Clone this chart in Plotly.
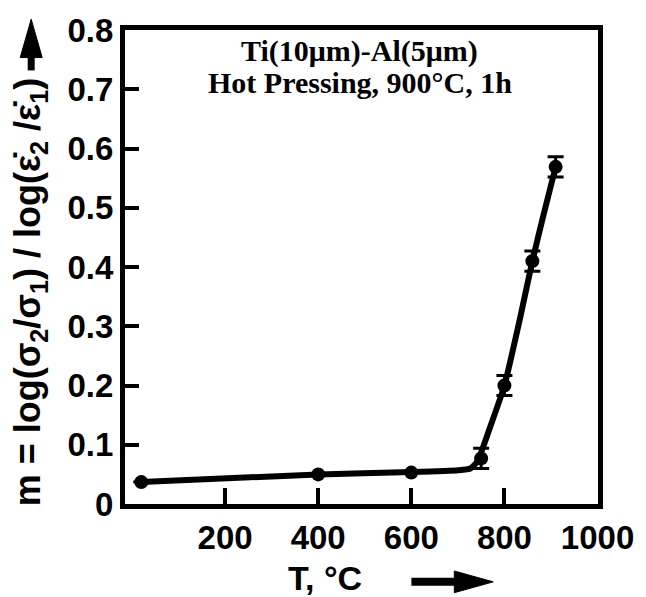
import plotly.graph_objects as go

# data
temp_c = [20, 400, 600, 750, 800, 860, 910]
m_val = [0.037, 0.050, 0.053, 0.077, 0.200, 0.410, 0.569]
m_err = [0, 0, 0, 0.017, 0.017, 0.017, 0.017]

# smooth guide curve drawn through the data
fit_t = [20, 400, 600, 700, 727, 742, 768, 800, 834, 860, 884, 910]
fit_m = [0.037, 0.050, 0.054, 0.057, 0.060, 0.072, 0.127, 0.200, 0.315, 0.410, 0.488, 0.569]

x_ticks = [200, 400, 600, 800, 1000]
y_ticks = [0, 0.1, 0.2, 0.3, 0.4, 0.5, 0.6, 0.7, 0.8]
y_labels = ["0", "0.1", "0.2", "0.3", "0.4", "0.5", "0.6", "0.7", "0.8"]

W, H = 646, 597
L, R, T, B = 125, 47, 23, 93
pw, ph = W - L - R, H - T - B

def xp(px):
    return (px - L) / pw

def yp(py):
    return (H - B - py) / ph

fig = go.Figure()
fig.add_trace(go.Scatter(x=fit_t, y=fit_m, mode="lines",
                         line=dict(color="black", width=6, shape="spline", smoothing=0.5),
                         hoverinfo="skip", showlegend=False))
fig.add_trace(go.Scatter(x=temp_c, y=m_val, mode="markers",
                         marker=dict(color="black", size=14),
                         error_y=dict(type="data", array=m_err, visible=True,
                                      color="black", thickness=3, width=8),
                         showlegend=False))

tickfont = dict(family="Liberation Sans, Arial", size=33, color="black", weight="bold")
fig.update_xaxes(range=[-15, 1001], tickvals=x_ticks, ticks="inside", ticklen=16,
                 tickwidth=4, tickcolor="black", showline=True, linewidth=5,
                 linecolor="black", mirror=True, showgrid=False, zeroline=False,
                 tickfont=tickfont)
fig.update_yaxes(range=[0, 0.8], tickvals=y_ticks, ticktext=y_labels, ticks="inside",
                 ticklen=14, tickwidth=4, tickcolor="black", showline=True, linewidth=5,
                 linecolor="black", mirror=True, showgrid=False, zeroline=False,
                 tickfont=tickfont)

serif = dict(family="Liberation Serif, Times New Roman", size=30, color="black")
fig.add_annotation(xref="paper", yref="paper", x=xp(360), y=yp(44),
                   text="<b>Ti(10μm)-Al(5μm)</b>", showarrow=False, font=serif,
                   xanchor="center", yanchor="middle")
fig.add_annotation(xref="paper", yref="paper", x=xp(360), y=yp(76),
                   text="<b>Hot Pressing, 900°C, 1h</b>", showarrow=False, font=serif,
                   xanchor="center", yanchor="middle")

sans = dict(family="Liberation Sans, Arial", size=36, color="black")
fig.add_annotation(xref="paper", yref="paper", x=xp(30), y=yp(289),
                   text="<b>m = log(σ<sub>2</sub>/σ<sub>1</sub>) / log(ε̇<sub>2</sub> /ε̇<sub>1</sub>)</b>",
                   textangle=-90, showarrow=False, font=sans,
                   xanchor="center", yanchor="middle")
fig.add_annotation(xref="paper", yref="paper", x=xp(325), y=yp(579),
                   text="<b>T, °C</b>", showarrow=False,
                   font=dict(family="Liberation Sans, Arial", size=34, color="black"),
                   xanchor="center", yanchor="middle")

# up arrow next to y title
fig.add_shape(type="line", xref="paper", yref="paper", x0=xp(31), x1=xp(31),
              y0=yp(64), y1=yp(45), line=dict(color="black", width=7))
fig.add_shape(type="path", xref="paper", yref="paper",
              path=f"M {xp(31)},{yp(12)} L {xp(20)},{yp(51)} L {xp(42)},{yp(51)} Z",
              fillcolor="black", line=dict(color="black", width=1))
# right arrow next to x title
fig.add_shape(type="line", xref="paper", yref="paper", x0=xp(412), x1=xp(460),
              y0=yp(583), y1=yp(583), line=dict(color="black", width=8))
fig.add_shape(type="path", xref="paper", yref="paper",
              path=f"M {xp(494)},{yp(583)} L {xp(455)},{yp(572)} L {xp(455)},{yp(594)} Z",
              fillcolor="black", line=dict(color="black", width=1))

fig.update_layout(width=W, height=H, margin=dict(l=L, r=R, t=T, b=B),
                  plot_bgcolor="white", paper_bgcolor="white")
fig.write_html("out.html")
